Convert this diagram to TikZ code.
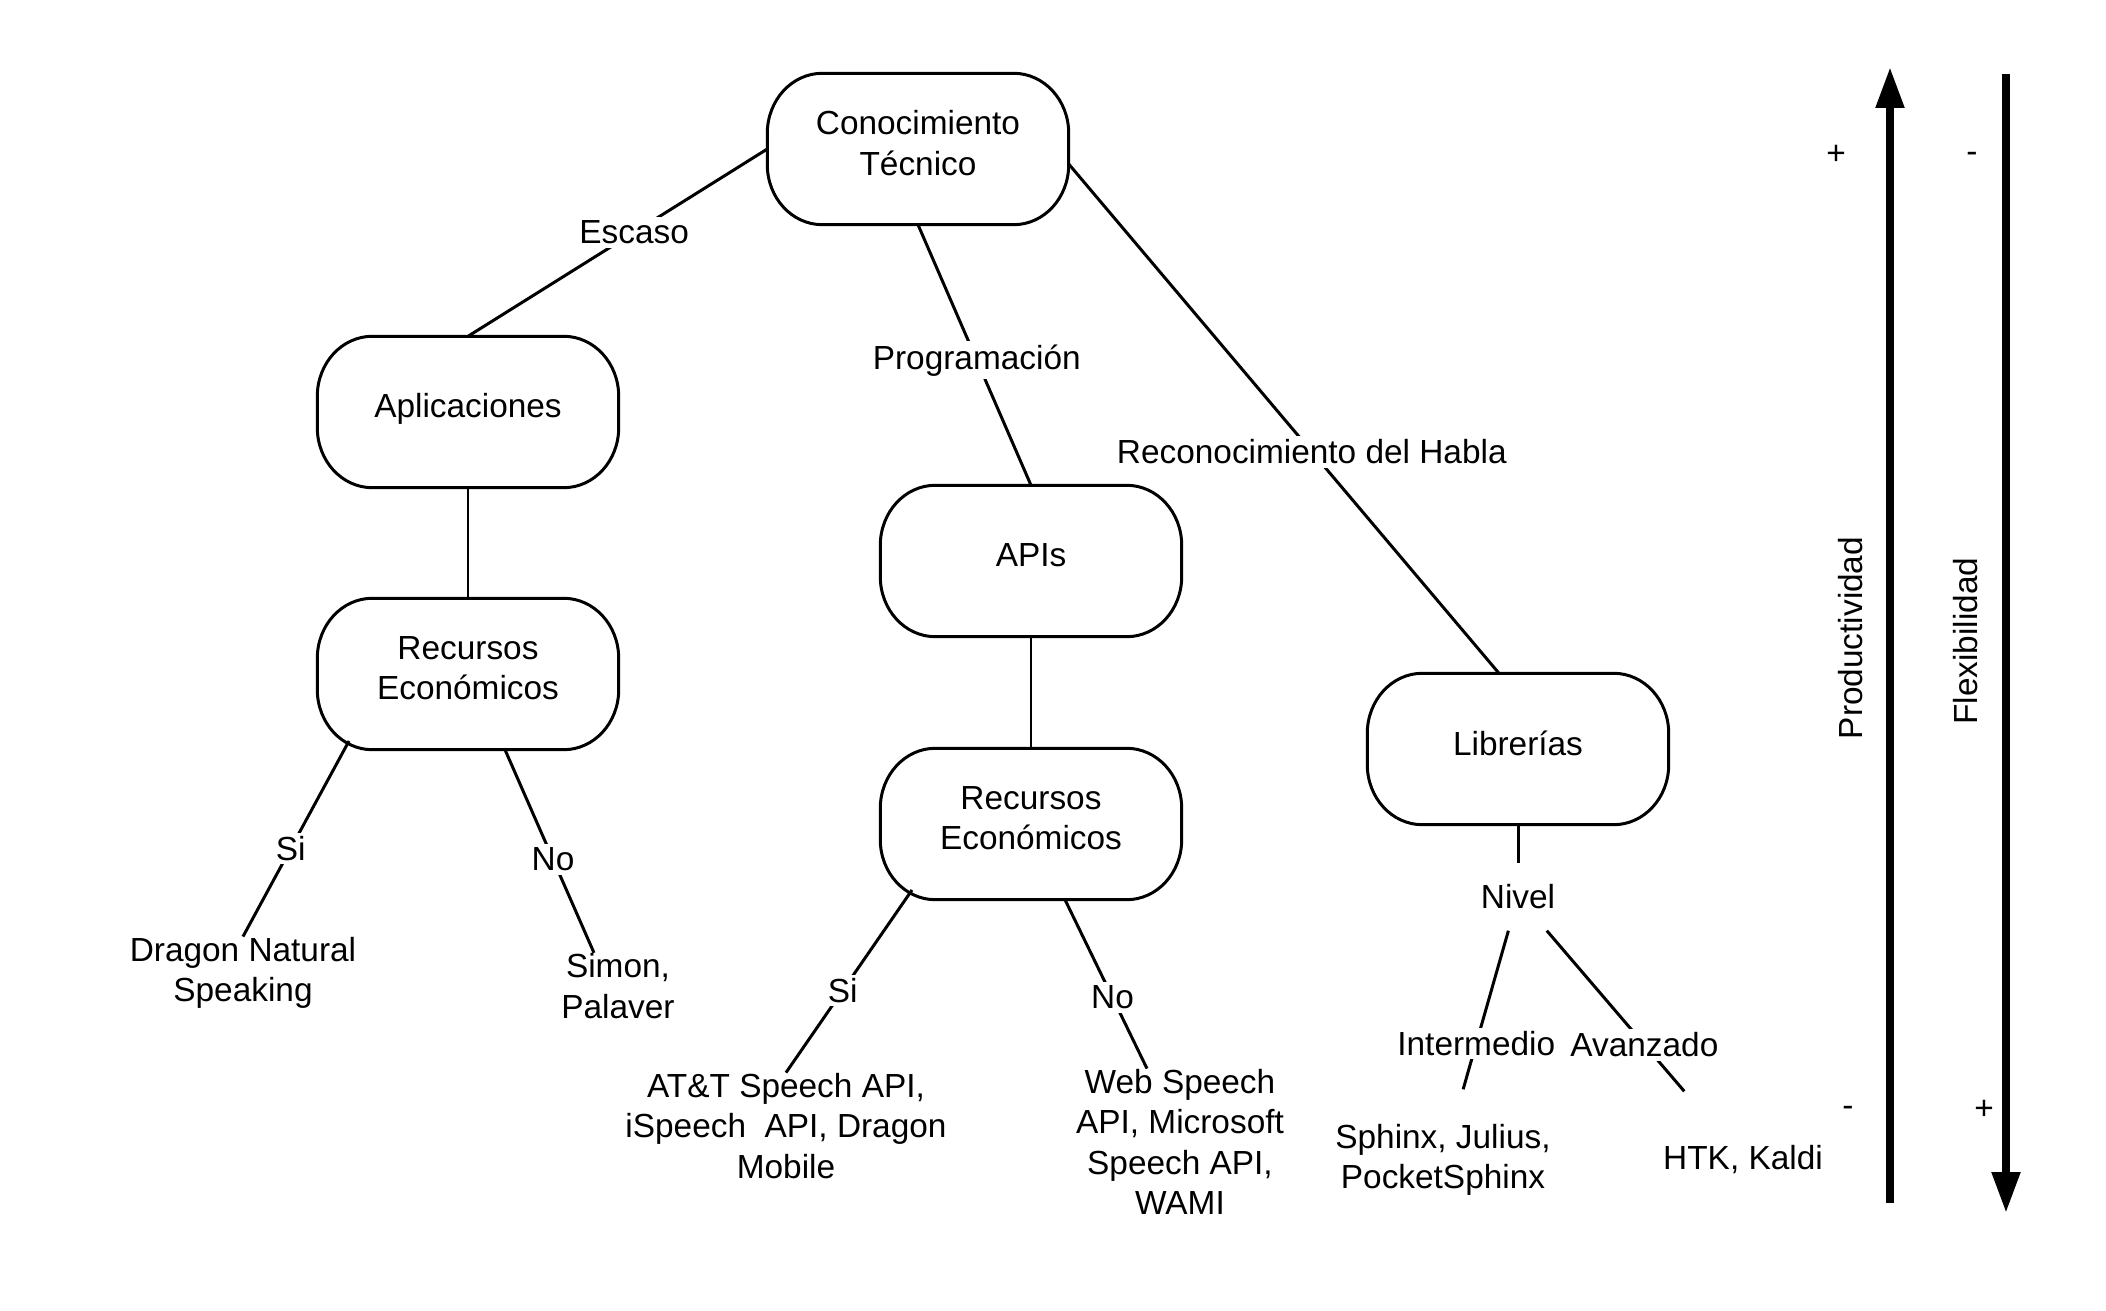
\documentclass[tikz,border=0pt]{standalone}
\usepackage{fontspec}
\setmainfont{Liberation Sans}
\usepackage{tikz}
\usetikzlibrary{arrows.meta,positioning,calc}

\begin{document}
\begin{tikzpicture}[every node/.style={font=\fontsize{9.5}{11.5}\selectfont},
    box/.style={minimum width=3cm, minimum height=1.5cm, align=center, text depth=3.5pt},
    link/.style={line width=0.85pt},
    lbl/.style={fill=white, inner sep=1pt},
    leaf/.style={align=center, inner sep=0pt},
    axis/.style={line width=2.3pt, -{Triangle[length=4.1mm,width=2.7mm]}}]
    \useasboundingbox (0,0) rectangle (21.06,-13.11);

    % Central node
    \node[box] (con) at (9.18,-1.49) {Conocimiento\\Técnico};

    % Branches
    \node[box] (apl) at (4.68,-4.12) {Aplicaciones};
    \node[box] (recA) at (4.68,-6.74) {Recursos\\Económicos};
    \node[box] (api) at (10.31,-5.61) {APIs};
    \node[box] (recB) at (10.31,-8.24) {Recursos\\Económicos};
    \node[box] (lib) at (15.18,-7.49) {Librerías};

    % Outlines
    \foreach \n in {con,apl,recA,api,recB,lib}
        \draw[link] ([xshift=5.5mm]\n.north west) -- ([xshift=-5.5mm]\n.north east)
            arc[start angle=90, end angle=0, x radius=5.5mm, y radius=6mm]
            -- ([yshift=6mm]\n.south east)
            arc[start angle=0, end angle=-90, x radius=5.5mm, y radius=6mm]
            -- ([xshift=5.5mm]\n.south west)
            arc[start angle=270, end angle=180, x radius=5.5mm, y radius=6mm]
            -- ([yshift=-6mm]\n.north west)
            arc[start angle=180, end angle=90, x radius=5.5mm, y radius=6mm] -- cycle;

    % Leaves
    \node[leaf] (dragon) at (2.43,-9.73) {Dragon Natural\\Speaking};
    \node[leaf] (simon) at (6.18,-9.86) {Simon,\\Palaver};
    \node[leaf] (att) at (7.86,-11.26) {AT\&T Speech API,\\iSpeech\ \ API, Dragon\\Mobile};
    \node[leaf] (web) at (11.80,-11.42) {Web Speech\\API, Microsoft\\Speech API,\\WAMI};
    \node[leaf, minimum height=0.66cm] (nivel) at (15.18,-8.97) {Nivel};
    \node[leaf, minimum height=1.4cm] (sphinx) at (14.43,-11.60) {Sphinx, Julius,\\PocketSphinx};
    \node[leaf, minimum height=1.36cm] (htk) at (17.43,-11.60) {HTK, Kaldi};

    % Connectors
    \draw[link] (con.west) -- node[lbl, pos=0.445]{Escaso} (apl.north);
    \draw[link] (con.south) -- node[lbl, pos=0.52]{Programación} (api.north);
    \draw[link] ([yshift=-0.15cm]con.east) -- node[lbl, pos=0.565]{Reconocimiento del Habla} ([xshift=-0.19cm]lib.north);
    \draw[link] (apl) -- (recA);
    \draw[link] (api) -- (recB);
    \draw[link] (lib) -- (nivel);
    \draw[link] ([shift={(-1.19,-0.67)}]recA.center) -- node[lbl, pos=0.55]{Si} (dragon.north);
    \draw[link] ([xshift=0.37cm]recA.south) -- node[lbl, pos=0.54]{No} ([xshift=-0.24cm]simon.north);
    \draw[link] ([shift={(-1.19,-0.66)}]recB.center) -- node[lbl, pos=0.55]{Si} (att.north);
    \draw[link] ([xshift=0.34cm]recB.south) -- node[lbl, pos=0.58]{No} ([xshift=-0.33cm]web.north);
    \draw[link] (nivel) -- node[lbl, pos=0.71]{Intermedio} (sphinx);
    \draw[link] (nivel) -- node[lbl, pos=0.71]{Avanzado} (htk);

    % Scales
    \node[rotate=90] (prod) at (18.51,-6.38) {Productividad};
    \node[rotate=90] (flex) at (19.66,-6.41) {Flexibilidad};
    \node (prodHi) at (18.36,-1.55) {+};
    \node (flexLo) at (19.72,-1.57) {-};
    \node (prodLo) at (18.48,-11.11) {-};
    \node (flexHi) at (19.84,-11.10) {+};
    \coordinate (prodB) at (18.90,-12.03);
    \coordinate (prodT) at (18.90,-0.67);
    \coordinate (flexT) at (20.06,-0.74);
    \coordinate (flexB) at (20.06,-12.13);
    \draw[axis] (prodB) -- (prodT);
    \draw[axis] (flexT) -- (flexB);
\end{tikzpicture}
\end{document}
